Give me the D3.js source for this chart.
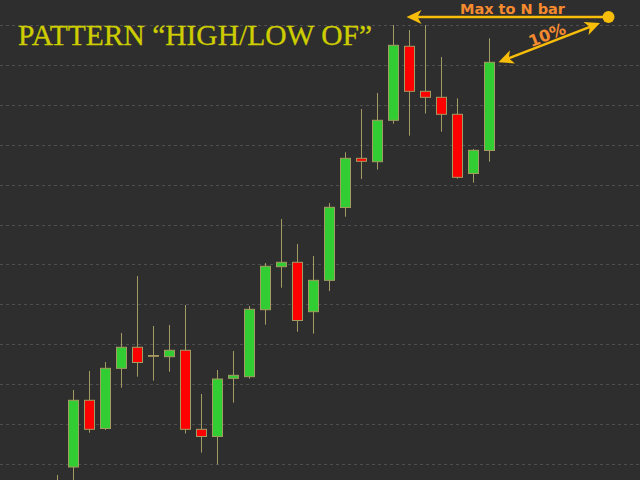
<!DOCTYPE html>
<html>
<head>
<meta charset="utf-8">
<script src="https://cdn.jsdelivr.net/npm/d3@7"></script>
<style>
  html, body { margin: 0; padding: 0; background: #2e2e2e; }
  svg { display: block; }
</style>
</head>
<body>
<svg id="chart" width="640" height="480"></svg>
<script>
// ---- data ----
const bars  = ["1","2","3","4","5","6","7","8","9","10","11","12","13","14","15","16","17","18","19","20","21","22","23","24","25","26","27","28"];
const open  = [93.5, 99.37,116.09,109.02,124.10,129.37,127.31,127.01,128.62,108.82,107.02,121.60,122.00,138.79,149.56,150.67,138.29,146.15,164.40,176.72,175.87,186.25,204.79,193.51,192.01,187.75,172.92,178.68];
const high  = [97.37,118.67,123.43,125.68,132.95,147.23,134.70,134.95,139.97,117.67,123.68,128.44,139.72,150.49,161.51,155.25,152.24,165.52,178.23,189.08,193.09,210.13,208.87,210.13,202.11,191.76,179.05,206.79];
const low   = [92.5, 95.00,107.97,108.64,119.24,122.00,121.00,123.25,107.77,102.96,100.00,115.49,121.50,135.03,144.30,133.28,132.77,143.47,162.09,171.54,173.87,185.39,182.39,187.95,183.39,171.61,170.61,175.87];
const close = [95.8,116.09,108.82,124.10,129.37,125.56,127.11,128.62,108.82,107.02,121.42,122.35,138.89,149.66,150.67,136.08,146.15,164.45,176.72,175.97,186.25,205.04,193.51,192.01,187.75,171.96,178.73,200.78];
const gridValues = [100,110,120,130,140,150,160,170,180,190,200,210];
const titleText = "PATTERN \u201CHIGH/LOW OF\u201D";
const maxLabel = "Max to N bar";
const pctLabel = "10%";

// ---- setup ----
const W = 640, H = 480;
const svg = d3.select("#chart");
svg.append("rect").attr("width", W).attr("height", H).attr("fill", "#2e2e2e");

const x = d3.scaleLinear().domain([0, bars.length - 1]).range([57.5, 489.5]);
const y = d3.scaleLinear().domain([100, 210]).range([464.5, 25.5]);

// grid via axis
const grid = svg.append("g")
  .call(d3.axisLeft(y).tickValues(gridValues).tickSize(-W).tickFormat("").offset(0));
grid.select(".domain").remove();
grid.selectAll(".tick line")
  .attr("stroke", "#4f4f4f")
  .attr("stroke-width", 1)
  .attr("stroke-dasharray", "3,3")
  .attr("shape-rendering", "crispEdges");

// candles
const data = bars.map((b, i) => ({ b, i, o: open[i], h: high[i], l: low[i], c: close[i] }));
const wickColor = "#a39c62";
const cg = svg.append("g");
cg.selectAll("line.wick").data(data).join("line")
  .attr("class", "wick")
  .attr("x1", d => x(d.i)).attr("x2", d => x(d.i))
  .attr("y1", d => y(d.h)).attr("y2", d => y(d.l))
  .attr("stroke", wickColor).attr("stroke-width", 1);
const bodyW = 10;
cg.selectAll("rect.body").data(data).join("rect")
  .attr("class", "body")
  .attr("x", d => x(d.i) - bodyW / 2)
  .attr("width", bodyW)
  .attr("y", d => y(Math.max(d.o, d.c)))
  .attr("height", d => Math.max(0.8, Math.abs(y(d.o) - y(d.c))))
  .attr("fill", d => d.c >= d.o ? "#32cd32" : "#ff0000")
  .attr("stroke", wickColor).attr("stroke-width", 1);

// title
svg.append("text")
  .attr("x", 18).attr("y", 45)
  .attr("font-family", "'Liberation Serif', 'Times New Roman', serif")
  .attr("font-size", 29.5)
  .attr("fill", "#cdcd00")
  .attr("stroke", "#cdcd00").attr("stroke-width", 0.3)
  .text(titleText);

// annotations
const amber = "#f7bd0a", orange = "#f58a2e";
const iMax = high.indexOf(d3.max(high));
const dot = { x: 608.5, y: 17 };
const tipL = { x: x(iMax) + 13, y: 17 };
const ag = svg.append("g");
function arrowHead(tip, angle) {
  const len = 15, half = 7, notch = 11;
  const pts = [[0,0],[-len,-half],[-notch,0],[-len,half]].map(([px,py]) => [
    tip.x + px*Math.cos(angle) - py*Math.sin(angle),
    tip.y + px*Math.sin(angle) + py*Math.cos(angle)
  ]);
  ag.append("polygon").attr("points", pts.map(p => p.join(",")).join(" ")).attr("fill", amber);
}
ag.append("line").attr("x1", dot.x).attr("y1", dot.y).attr("x2", tipL.x + 10).attr("y2", tipL.y)
  .attr("stroke", amber).attr("stroke-width", 2.5);
arrowHead(tipL, Math.PI);
ag.append("circle").attr("cx", dot.x).attr("cy", dot.y).attr("r", 6).attr("fill", amber);

const last = bars.length - 1;
const dA = { x: x(last) + 9, y: y(close[last]) };
const dB = { x: 600, y: 23 };
const ang = Math.atan2(dB.y - dA.y, dB.x - dA.x);
ag.append("line")
  .attr("x1", dA.x + 10*Math.cos(ang)).attr("y1", dA.y + 10*Math.sin(ang))
  .attr("x2", dB.x - 10*Math.cos(ang)).attr("y2", dB.y - 10*Math.sin(ang))
  .attr("stroke", amber).attr("stroke-width", 2.5);
arrowHead(dA, ang + Math.PI);
arrowHead(dB, ang);

svg.append("text")
  .attr("x", 512.5).attr("y", 13.5)
  .attr("text-anchor", "middle")
  .attr("font-family", "'DejaVu Sans', Verdana, sans-serif")
  .attr("font-weight", "bold")
  .attr("font-size", 14.5)
  .attr("fill", orange)
  .text(maxLabel);

svg.append("text")
  .attr("transform", `translate(547,35) rotate(${ang * 180 / Math.PI})`)
  .attr("text-anchor", "middle")
  .attr("dy", "0.35em")
  .attr("font-family", "'DejaVu Sans', Verdana, sans-serif")
  .attr("font-weight", "bold")
  .attr("font-size", 16)
  .attr("fill", orange)
  .text(pctLabel);
</script>
</body>
</html>
